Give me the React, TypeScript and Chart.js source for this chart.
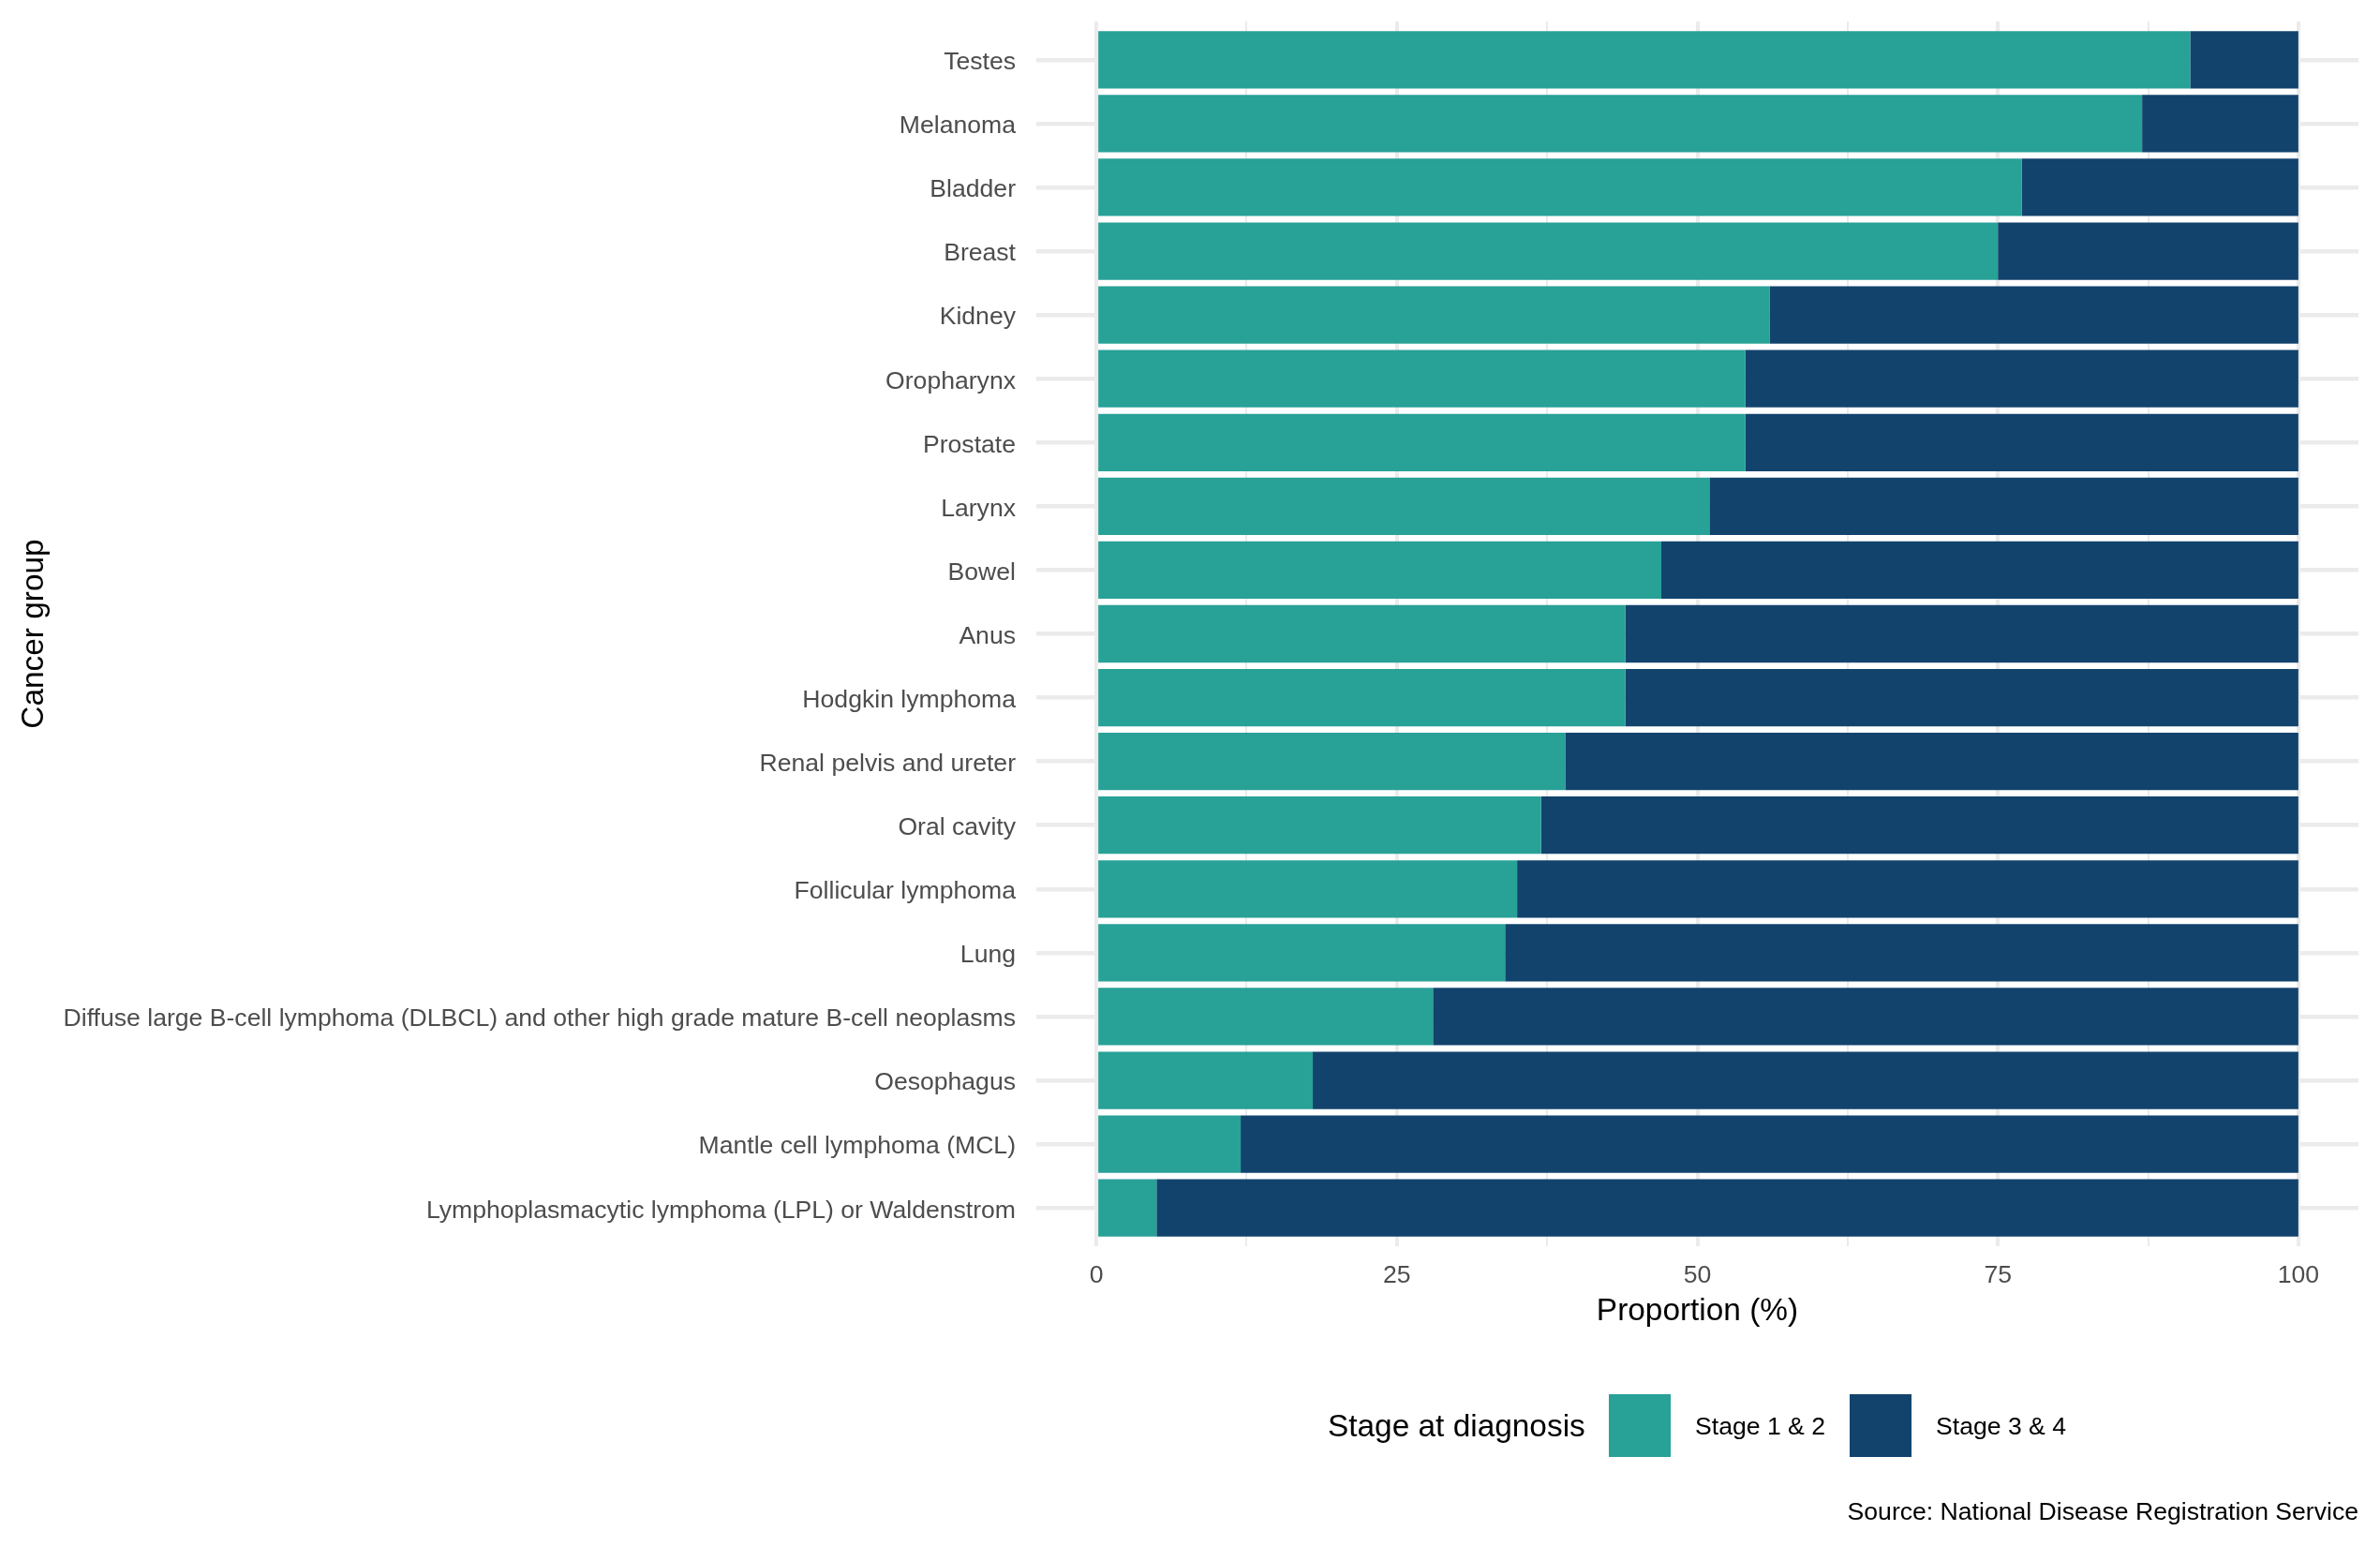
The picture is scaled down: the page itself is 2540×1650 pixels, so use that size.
import React, { useEffect, useRef } from "react";
import { Chart, registerables } from "chart.js";

Chart.register(...registerables);

const categories: string[] = [
  "Testes",
  "Melanoma",
  "Bladder",
  "Breast",
  "Kidney",
  "Oropharynx",
  "Prostate",
  "Larynx",
  "Bowel",
  "Anus",
  "Hodgkin lymphoma",
  "Renal pelvis and ureter",
  "Oral cavity",
  "Follicular lymphoma",
  "Lung",
  "Diffuse large B-cell lymphoma (DLBCL) and other high grade mature B-cell neoplasms",
  "Oesophagus",
  "Mantle cell lymphoma (MCL)",
  "Lymphoplasmacytic lymphoma (LPL) or Waldenstrom",
];

const stage12: number[] = [91, 87, 77, 75, 56, 54, 54, 51, 47, 44, 44, 39, 37, 35, 34, 28, 18, 12, 5];
const stage34: number[] = [9, 13, 23, 25, 44, 46, 46, 49, 53, 56, 56, 61, 63, 65, 66, 72, 82, 88, 95];

const xTicks: number[] = [0, 12.5, 25, 37.5, 50, 62.5, 75, 87.5, 100];
const xLabelTicks: number[] = [0, 25, 50, 75, 100];

const seriesNames: string[] = ["Stage 1 & 2", "Stage 3 & 4"];
const seriesColors: string[] = ["#28A197", "#12436D"];

const FONT = '"Liberation Sans", Arial, Helvetica, sans-serif';

export default function App() {
  const ref = useRef<HTMLCanvasElement | null>(null);

  useEffect(() => {
    if (!ref.current) return;
    const chart = new Chart(ref.current, {
      type: "bar",
      data: {
        datasets: [
          {
            label: seriesNames[0],
            data: stage12.map((v, i) => ({ x: v, y: i })),
            backgroundColor: seriesColors[0],
            borderWidth: 0,
            barPercentage: 0.9,
            categoryPercentage: 1,
          },
          {
            label: seriesNames[1],
            data: stage34.map((v, i) => ({ x: v, y: i })),
            backgroundColor: seriesColors[1],
            borderWidth: 0,
            barPercentage: 0.9,
            categoryPercentage: 1,
          },
        ],
      },
      options: {
        indexAxis: "y",
        responsive: false,
        animation: false,
        maintainAspectRatio: false,
        layout: { padding: { left: 0, top: 23, right: 23, bottom: 220 } },
        plugins: {
          legend: { display: false },
          tooltip: { enabled: false },
        },
        scales: {
          x: {
            type: "linear",
            stacked: true,
            offset: false,
            min: -5,
            max: 105,
            bounds: "data",
            afterBuildTicks: (scale: any) => {
              scale.ticks = xTicks.map((v) => ({ value: v }));
            },
            afterFit: (scale: any) => {
              scale.height = 100;
              scale.paddingLeft = 0;
              scale.paddingRight = 0;
              scale.paddingTop = 0;
              scale.paddingBottom = 0;
            },
            border: { display: false },
            grid: {
              color: "#EBEBEB",
              offset: false,
              lineWidth: (ctx: any) =>
                ctx.tick && xLabelTicks.includes(ctx.tick.value) ? 4 : 2,
              drawTicks: false,
            },
            ticks: {
              autoSkip: false,
              maxRotation: 0,
              padding: 16,
              color: "#4D4D4D",
              font: { family: FONT, size: 26.6 },
              callback: (v: any) => (xLabelTicks.includes(Number(v)) ? String(v) : ""),
            },
            title: {
              display: true,
              text: "Proportion (%)",
              color: "#000000",
              font: { family: FONT, size: 33.4 },
              padding: { top: 0, bottom: 10 },
            },
          },
          y: {
            type: "linear",
            stacked: true,
            reverse: true,
            offset: false,
            min: -0.6,
            max: categories.length - 1 + 0.6,
            bounds: "data",
            afterBuildTicks: (scale: any) => {
              scale.ticks = categories.map((_, i) => ({ value: i }));
            },
            afterFit: (scale: any) => {
              scale.width = 1106;
              scale.paddingTop = 0;
              scale.paddingBottom = 0;
              scale.paddingLeft = 0;
              scale.paddingRight = 0;
            },
            border: { display: false },
            grid: {
              color: "#EBEBEB",
              offset: false,
              lineWidth: 4.5,
              drawTicks: false,
            },
            ticks: {
              autoSkip: false,
              padding: 22,
              labelOffset: 3,
              color: "#4D4D4D",
              font: { family: FONT, size: 26.6 },
              callback: (v: any) => categories[Number(v)] ?? "",
            },
            title: {
              display: true,
              text: "Cancer group",
              color: "#000000",
              font: { family: FONT, size: 33.4 },
              padding: { top: 17, bottom: 0 },
            },
          },
        },
      },
    } as any);
    return () => chart.destroy();
  }, []);

  const textBase: React.CSSProperties = {
    position: "absolute",
    fontFamily: FONT,
    color: "#000000",
    whiteSpace: "nowrap",
    lineHeight: "1",
    transform: "translateY(-50%)",
  };

  return (
    <div
      style={{
        position: "absolute",
        left: 0,
        top: 0,
        width: 2540,
        height: 1650,
        background: "#ffffff",
        overflow: "hidden",
      }}
    >
      <canvas
        ref={ref}
        width={2540}
        height={1650}
        style={{ position: "absolute", left: 0, top: 0, width: 2540, height: 1650 }}
      />
      <div style={{ ...textBase, left: 1417, top: 1522, fontSize: 33.4 }}>Stage at diagnosis</div>
      <div
        style={{
          position: "absolute",
          left: 1717,
          top: 1488,
          width: 66,
          height: 67,
          background: seriesColors[0],
        }}
      />
      <div style={{ ...textBase, left: 1809, top: 1522, fontSize: 26.6 }}>{seriesNames[0]}</div>
      <div
        style={{
          position: "absolute",
          left: 1974,
          top: 1488,
          width: 66,
          height: 67,
          background: seriesColors[1],
        }}
      />
      <div style={{ ...textBase, left: 2066, top: 1522, fontSize: 26.6 }}>{seriesNames[1]}</div>
      <div
        style={{
          ...textBase,
          left: 0,
          width: 2517,
          textAlign: "right",
          top: 1613,
          fontSize: 26.6,
        }}
      >
        Source: National Disease Registration Service
      </div>
    </div>
  );
}
